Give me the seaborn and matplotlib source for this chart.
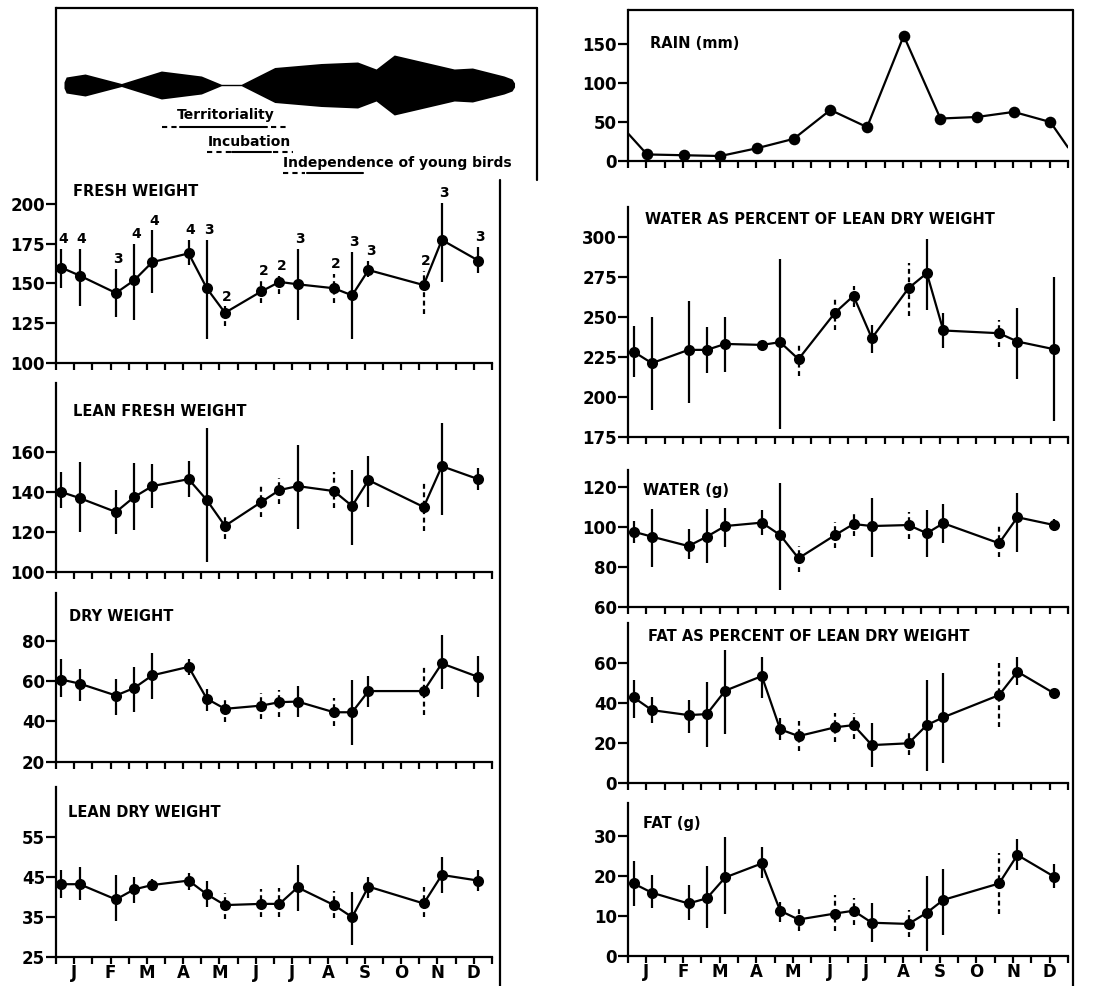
import numpy as np
import pandas as pd
import matplotlib
matplotlib.use("Agg")
import matplotlib.pyplot as plt
import seaborn as sns
from matplotlib.lines import Line2D

# ---------------- data ----------------
month_labels = ["J", "F", "M", "A", "M", "J", "J", "A", "S", "O", "N", "D"]
sample_month = [0.15, 0.65, 1.65, 2.15, 2.65, 3.65, 4.15, 4.65, 5.65, 6.15,
                6.65, 7.65, 8.15, 8.6, 10.12, 10.62, 11.62]
sample_n = [4, 4, 3, 4, 4, 4, 3, 2, 2, 2, 3, 2, 3, 3, 2, 3, 3]

fresh_mean = [160, 155, 144, 152, 163.5, 169, 147, 131.5, 145, 151, 149.5, 147, 142.5, 158.5, 149, 177.5, 164.5]
fresh_lo = [147, 136, 129, 127, 144, 161.5, 115, 123, 137.5, 143.5, 127, 137.5, 115, 154, 131, 151, 156.5]
fresh_hi = [172, 172, 159, 175, 183.5, 177.5, 177.5, 135.5, 152, 155, 172, 156, 170, 164.5, 158, 201, 173]

leanfresh_mean = [140, 137, 130, 137.5, 143, 146.5, 136, 123, 135, 141, 143, 140.5, 133, 146, 132.5, 153, 146.5]
leanfresh_lo = [132, 120, 119, 121, 132, 137.5, 105, 116.5, 127.5, 134, 121.5, 132, 113.5, 132.5, 120.5, 128.5, 141]
leanfresh_hi = [150, 155, 141, 154.5, 154, 155.5, 172, 128.5, 143.5, 147, 163.5, 150, 151, 158, 144.5, 174.5, 152]

dry_mean = [60.7, 58.7, 52.8, 56.5, 62.8, 67, 51.2, 46.2, 47.8, 49.5, 49.8, 44.5, 44.5, 55, 55, 68.7, 62]
dry_lo = [52, 50.3, 43.3, 44.5, 51.2, 62.8, 45, 39.5, 41.2, 42, 42.3, 37.8, 28.3, 47, 43.3, 56.2, 52]
dry_hi = [70.7, 65.8, 61.2, 66.7, 74, 70.7, 56.2, 52.3, 54, 55.3, 57.3, 51.5, 60.7, 62.3, 67.3, 82.8, 72.5]

leandry_mean = [43.2, 43.2, 39.4, 41.9, 43, 44.1, 40.7, 38, 38.3, 38.3, 42.4, 38, 35, 42.6, 38.4, 45.5, 44.1]
leandry_lo = [39.7, 39.3, 34.1, 38.4, 41.6, 41.7, 37.4, 34.5, 35.1, 35, 36.6, 34.7, 28.1, 39.7, 35.1, 40.9, 41.6]
leandry_hi = [46.7, 47.4, 45.5, 45, 44.4, 46, 44.1, 41.1, 41.9, 42.2, 48, 41.6, 41.3, 45, 42.4, 49.9, 46.7]

rain_month = [0.52, 1.52, 2.52, 3.52, 4.52, 5.52, 6.52, 7.52, 8.52, 9.52, 10.52, 11.52]
rain_mm = [8, 7, 6, 16, 28, 65, 43, 160, 54, 56, 62.5, 49.5]
rain_edge_month = [0.0, 12.0]
rain_edge_mm = [35, 17]

waterpct_mean = [228.5, 221.3, 229.6, 229.6, 233.3, 232.7, 234.4, 223.8, 252.9, 263.3, 236.9, 268.1, 277.5, 241.7, 240, 234.8, 230]
waterpct_lo = [212.5, 192.1, 196.7, 215.4, 216, 230.6, 180, 213.3, 241.7, 256.3, 227.9, 250.8, 254.2, 230.6, 231.7, 211.3, 185.4]
waterpct_hi = [244.2, 250.4, 260.4, 243.8, 250.4, 234.8, 286.3, 232.7, 262.9, 269.6, 245.2, 283.8, 298.8, 252.9, 248.3, 255.6, 275]

water_mean = [97.5, 95, 90.3, 95, 100.3, 102, 95.8, 84.2, 95.8, 101.3, 100.3, 100.8, 96.7, 101.7, 91.7, 104.7, 100.8]
water_lo = [92, 80, 83.7, 81.7, 90, 95.8, 68.3, 77.5, 89.2, 95.3, 84.7, 93.7, 85, 92, 84.7, 87.5, 98]
water_hi = [103, 108.7, 98.7, 108.7, 109.2, 108.3, 122, 90.3, 102.5, 107, 114.2, 107.5, 108.3, 111.3, 100.8, 117, 103.7]

fatpct_mean = [42.7, 36.3, 33.8, 34.3, 46, 53.3, 26.7, 23.3, 27.7, 28.8, 18.8, 19.7, 28.8, 32.7, 43.8, 55.5, 44.7]
fatpct_lo = [32.2, 30, 25, 17.7, 24.3, 42.2, 21.3, 16, 20.5, 21.7, 7.7, 13.8, 6, 9.7, 27.7, 48.8, 42.2]
fatpct_hi = [51.3, 43, 41.3, 50.5, 66.3, 62.7, 32.2, 31, 35, 35, 29.7, 25.5, 51.3, 54.7, 59.7, 62.7, 46.7]

fat_mean = [18.1, 15.8, 13.1, 14.4, 19.6, 23.1, 11.3, 9.1, 10.6, 11.3, 8.3, 8, 10.8, 14, 18.1, 25.2, 19.8]
fat_lo = [12.5, 12.1, 9.1, 7.1, 10.5, 19.4, 8.6, 6.3, 6.3, 7.7, 3.6, 4.8, 1.3, 5.2, 10.5, 21.4, 16.9]
fat_hi = [23.8, 20.2, 17.7, 22.4, 29.6, 27.1, 13.5, 12.1, 15.2, 14.4, 13.3, 11.6, 19.9, 21.6, 25.6, 29.1, 22.9]

# activity band (kite diagram): month position and half-width
band_month = [0.22, 0.28, 0.80, 1.80, 2.90, 4.00, 4.55, 5.10, 6.02, 7.30, 8.30,
              8.81, 9.31, 10.96, 11.46, 12.33, 12.55, 12.62]
band_half = [3, 8, 11, 1.5, 14, 9, 0.7, 0.7, 17.5, 21.5, 23, 16, 30, 16, 17, 9, 6, 2]

phase_names = ["Territoriality", "Incubation", "Independence of young birds"]
phase_dash_pre = [(2.91, 3.35), (4.15, 4.84), (6.26, 6.84)]
phase_solid = [(3.41, 5.82), (4.84, 5.91), (6.90, 8.46)]
phase_dash_post = [(5.91, 6.40), (5.96, 6.51), None]

# ---------------- style ----------------
sns.set_theme(style="ticks")
plt.rcParams["font.family"] = ["DejaVu Sans"]
plt.rcParams["font.weight"] = "bold"
plt.rcParams["text.color"] = "black"
plt.rcParams["xtick.color"] = "black"
plt.rcParams["ytick.color"] = "black"
plt.rcParams["xtick.labelcolor"] = "black"
plt.rcParams["ytick.labelcolor"] = "black"
plt.rcParams["axes.edgecolor"] = "black"

W, H = 1112, 986
fig = plt.figure(figsize=(W / 100, H / 100), dpi=100)
fig.patch.set_facecolor("white")


def rect(x0, y0, x1, y1):
    return [x0 / W, 1 - y1 / H, (x1 - x0) / W, (y1 - y0) / H]


LW = 1.6
TICKFS = 12


def make_panel(r, ylim, yticks, show_months):
    ax = fig.add_axes(rect(*r))
    ax.set_facecolor("none")
    ax.set_xlim(0, 12)
    ax.set_ylim(*ylim)
    for s in ["top", "right"]:
        ax.spines[s].set_visible(False)
    for s in ["left", "bottom"]:
        ax.spines[s].set_linewidth(LW)
        ax.spines[s].set_color("black")
    ax.xaxis.remove_overlapping_locs = False
    ax.set_xticks(np.arange(0, 12.01, 0.5))
    ax.set_xticklabels([])
    ax.tick_params(axis="x", which="major", direction="out", length=5, width=LW, color="black")
    ax.set_xticks([m + 0.5 for m in range(12)], minor=True)
    if show_months:
        ax.set_xticklabels(month_labels, minor=True, fontsize=TICKFS, fontweight="bold")
    else:
        ax.set_xticklabels([], minor=True)
    ax.tick_params(axis="x", which="minor", length=0, pad=5, labelcolor="black")
    ax.set_yticks(yticks)
    ax.set_yticklabels([str(t) for t in yticks], fontsize=TICKFS, fontweight="bold")
    ax.tick_params(axis="y", direction="out", length=7, width=LW, pad=1, color="black",
                   labelcolor="black")
    ax.set_xlabel("")
    ax.set_ylabel("")
    return ax


def draw_series(ax, mean, lo, hi):
    df = pd.DataFrame({"month": sample_month, "mean": mean, "lo": lo, "hi": hi, "n": sample_n})
    solid = df[df["n"] != 2]
    dashed = df[df["n"] == 2]
    ax.vlines(solid["month"], solid["lo"], solid["hi"], colors="black", linewidth=1.6, zorder=2)
    ax.vlines(dashed["month"], dashed["lo"], dashed["hi"], colors="black", linewidth=1.6,
              linestyles=(0, (2.2, 1.6)), zorder=2)
    sns.lineplot(data=df, x="month", y="mean", ax=ax, color="black", linewidth=LW,
                 marker="o", markersize=8, markeredgecolor="black", markeredgewidth=0,
                 sort=False, zorder=3, clip_on=False)
    ax.set_xlabel("")
    ax.set_ylabel("")
    return df


def title(x, y, s):
    fig.text(x / W, 1 - y / H, s, fontsize=10.5, fontweight="bold", ha="left", va="center",
             color="black")


# ---------------- left column ----------------
ax_fw = make_panel((56, 8, 492, 362.7), (100, 323.9), [100, 125, 150, 175, 200], False)
df_fw = draw_series(ax_fw, fresh_mean, fresh_lo, fresh_hi)
for _, row in df_fw.iterrows():
    ax_fw.annotate(str(int(row["n"])), (row["month"], row["hi"]), xytext=(1.5, 2),
                   textcoords="offset points", ha="center", va="bottom",
                   fontsize=10, fontweight="bold", color="black")
title(73, 191.7, "FRESH WEIGHT")

ax_lf = make_panel((56, 383, 492, 571.7), (100, 194.8), [100, 120, 140, 160], False)
draw_series(ax_lf, leanfresh_mean, leanfresh_lo, leanfresh_hi)
title(73, 411.7, "LEAN FRESH WEIGHT")

ax_dw = make_panel((56, 593, 492, 761.7), (20, 103.6), [20, 40, 60, 80], False)
draw_series(ax_dw, dry_mean, dry_lo, dry_hi)
title(69, 616.7, "DRY WEIGHT")

ax_ld = make_panel((56, 787, 492, 957.3), (25, 67.4), [25, 35, 45, 55], True)
draw_series(ax_ld, leandry_mean, leandry_lo, leandry_hi)
title(68, 812.3, "LEAN DRY WEIGHT")

# annotation band on top of fresh weight panel
ax_band = fig.add_axes(rect(56, 8, 492, 185))
ax_band.set_xlim(0, 12)
ax_band.set_ylim(185, 8)
ax_band.axis("off")
centre = 85
bh = np.array(band_half)
ax_band.fill_between(band_month, centre - bh, centre + bh, color="black", lw=0, clip_on=False)
text_y = [115, 142, 163]
line_y = [127, 152, 173]
text_x = [4.67, 5.33, 6.24]
text_ha = ["center", "center", "left"]
for name, tx, ty, ha in zip(phase_names, text_x, text_y, text_ha):
    ax_band.text(tx, ty, name, fontsize=10, fontweight="bold", ha=ha, va="center",
                 clip_on=False, color="black")
for seg_pre, seg_sol, seg_post, ly in zip(phase_dash_pre, phase_solid, phase_dash_post, line_y):
    ax_band.plot(seg_pre, [ly, ly], color="black", lw=1.5, ls=(0, (2.5, 2)), clip_on=False)
    ax_band.plot(seg_sol, [ly, ly], color="black", lw=1.5, clip_on=False)
    if seg_post is not None:
        ax_band.plot(seg_post, [ly, ly], color="black", lw=1.5, ls=(0, (2.5, 2)), clip_on=False)

# ---------------- right column ----------------
ax_rain = make_panel((628, 10, 1068, 160.7), (0, 193), [0, 50, 100, 150], False)
rain_df = pd.DataFrame({"month": rain_edge_month[:1] + rain_month + rain_edge_month[1:],
                        "mm": rain_edge_mm[:1] + rain_mm + rain_edge_mm[1:]})
sns.lineplot(data=rain_df, x="month", y="mm", ax=ax_rain, color="black", linewidth=LW, zorder=2)
sns.scatterplot(x=rain_month, y=rain_mm, ax=ax_rain, color="black", s=70, edgecolor="black",
                linewidth=0, zorder=3)
ax_rain.set_xlabel("")
ax_rain.set_ylabel("")
title(650, 43.3, "RAIN (mm)")

ax_wp = make_panel((628, 206.7, 1068, 437.3), (175, 319), [175, 200, 225, 250, 275, 300], False)
draw_series(ax_wp, waterpct_mean, waterpct_lo, waterpct_hi)
title(645, 219.3, "WATER AS PERCENT OF LEAN DRY WEIGHT")

ax_wg = make_panel((628, 470, 1068, 606.7), (60, 128.3), [60, 80, 100, 120], False)
draw_series(ax_wg, water_mean, water_lo, water_hi)
title(643.3, 490, "WATER (g)")

ax_fp = make_panel((628, 623.3, 1068, 782.7), (0, 79.7), [0, 20, 40, 60], False)
draw_series(ax_fp, fatpct_mean, fatpct_lo, fatpct_hi)
title(648.3, 636.7, "FAT AS PERCENT OF LEAN DRY WEIGHT")

ax_fg = make_panel((628, 803.3, 1068, 956), (0, 38.1), [0, 10, 20, 30], True)
draw_series(ax_fg, fat_mean, fat_lo, fat_hi)
title(643.3, 823.3, "FAT (g)")

# ---------------- frame lines ----------------
def fline(xs, ys):
    fig.add_artist(Line2D([x / W for x in xs], [1 - y / H for y in ys], color="black",
                          lw=LW, transform=fig.transFigure))

fline([56, 537], [8, 8])
fline([537, 537], [8, 180])
fline([500, 500], [180, 986])
fline([628, 1073], [10, 10])
fline([1073, 1073], [10, 986])

fig.savefig("out.png", dpi=100)
